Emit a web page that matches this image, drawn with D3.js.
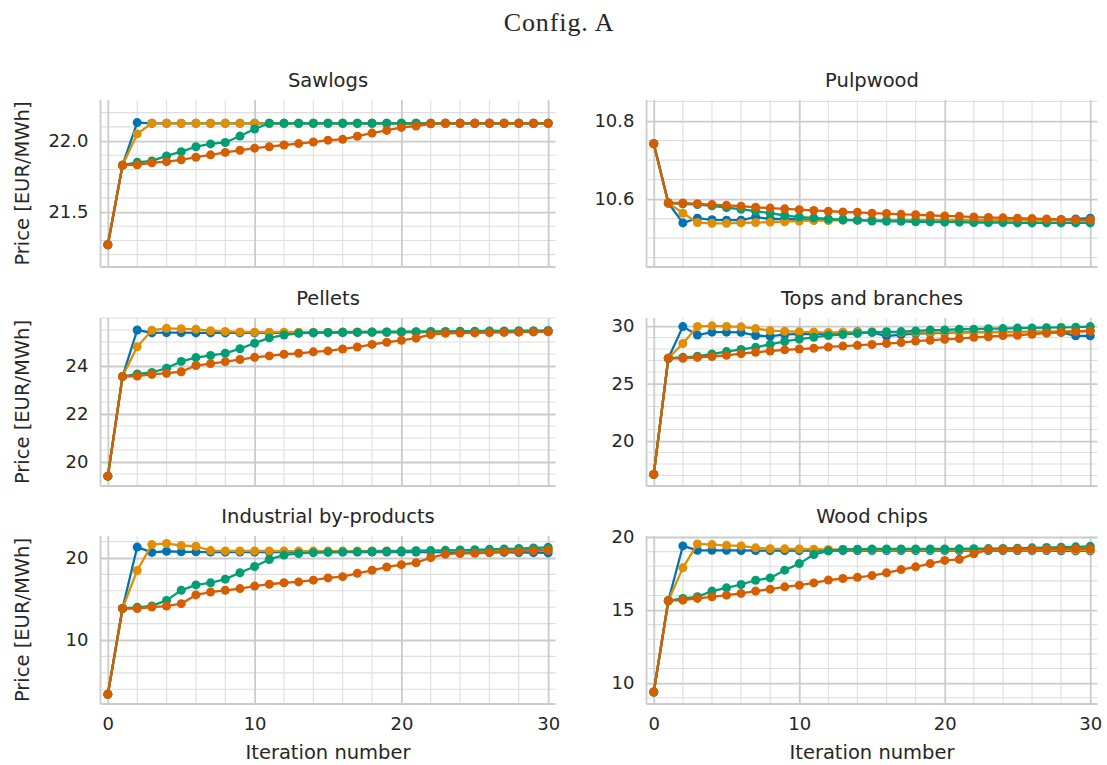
<!DOCTYPE html>
<html>
<head>
<meta charset="utf-8">
<script src="https://cdn.jsdelivr.net/npm/d3@7/dist/d3.min.js"></script>
<style>
  html, body { margin: 0; padding: 0; background: #ffffff; }
  svg { display: block; }
  text { font-family: "DejaVu Sans", sans-serif; fill: #262626; }
</style>
</head>
<body>
<svg id="chart" width="1107" height="765"></svg>
<script>
// ---- Data: price per iteration (0..30), four runs per assortment ----
const iterations = d3.range(0, 31);
const runNames = ["Run 1", "Run 2", "Run 3", "Run 4"];
const runColors = ["#0173b2", "#de8f05", "#029e73", "#d55e00"];

const sawlogsRun1 = [21.27, 21.83, 22.13, 22.125, 22.125, 22.125, 22.125, 22.125, 22.125, 22.125, 22.125, 22.125, 22.125, 22.125, 22.125, 22.125, 22.125, 22.125, 22.125, 22.125, 22.125, 22.125, 22.125, 22.125, 22.125, 22.125, 22.125, 22.125, 22.125, 22.125, 22.125];
const sawlogsRun2 = [21.27, 21.83, 22.05, 22.125, 22.125, 22.125, 22.125, 22.125, 22.125, 22.125, 22.125, 22.125, 22.125, 22.125, 22.125, 22.125, 22.125, 22.125, 22.125, 22.125, 22.125, 22.125, 22.125, 22.125, 22.125, 22.125, 22.125, 22.125, 22.125, 22.125, 22.125];
const sawlogsRun3 = [21.27, 21.83, 21.85, 21.86, 21.895, 21.925, 21.96, 21.98, 21.99, 22.035, 22.085, 22.125, 22.125, 22.125, 22.125, 22.125, 22.125, 22.125, 22.125, 22.125, 22.125, 22.125, 22.125, 22.125, 22.125, 22.125, 22.125, 22.125, 22.125, 22.125, 22.125];
const sawlogsRun4 = [21.27, 21.83, 21.833, 21.847, 21.855, 21.868, 21.886, 21.903, 21.92, 21.935, 21.95, 21.96, 21.972, 21.982, 21.993, 22.006, 22.012, 22.034, 22.056, 22.075, 22.096, 22.106, 22.121, 22.125, 22.125, 22.125, 22.125, 22.125, 22.125, 22.125, 22.125];

const pulpwoodRun1 = [10.742, 10.59, 10.539, 10.551, 10.547, 10.546, 10.546, 10.554, 10.549, 10.549, 10.548, 10.547, 10.547, 10.547, 10.546, 10.546, 10.546, 10.546, 10.546, 10.546, 10.546, 10.546, 10.546, 10.546, 10.546, 10.546, 10.546, 10.546, 10.547, 10.549, 10.551];
const pulpwoodRun2 = [10.742, 10.59, 10.564, 10.54, 10.538, 10.538, 10.539, 10.54, 10.541, 10.542, 10.544, 10.545, 10.545, 10.546, 10.546, 10.546, 10.546, 10.546, 10.546, 10.546, 10.546, 10.546, 10.546, 10.546, 10.546, 10.546, 10.546, 10.546, 10.546, 10.545, 10.545];
const pulpwoodRun3 = [10.742, 10.59, 10.588, 10.586, 10.583, 10.578, 10.574, 10.569, 10.564, 10.558, 10.554, 10.552, 10.549, 10.547, 10.546, 10.544, 10.543, 10.543, 10.542, 10.542, 10.541, 10.541, 10.54, 10.54, 10.54, 10.539, 10.539, 10.539, 10.539, 10.539, 10.539];
const pulpwoodRun4 = [10.742, 10.59, 10.59, 10.588, 10.586, 10.584, 10.582, 10.579, 10.577, 10.575, 10.573, 10.571, 10.569, 10.567, 10.566, 10.564, 10.563, 10.561, 10.56, 10.558, 10.557, 10.556, 10.554, 10.553, 10.552, 10.551, 10.55, 10.549, 10.548, 10.547, 10.547];

const pelletsRun1 = [19.41, 23.56, 25.5, 25.38, 25.39, 25.39, 25.38, 25.38, 25.38, 25.38, 25.38, 25.38, 25.38, 25.38, 25.38, 25.39, 25.39, 25.4, 25.4, 25.4, 25.4, 25.41, 25.41, 25.41, 25.42, 25.42, 25.42, 25.43, 25.43, 25.44, 25.45];
const pelletsRun2 = [19.41, 23.56, 24.8, 25.49, 25.57, 25.55, 25.53, 25.47, 25.44, 25.42, 25.41, 25.41, 25.41, 25.41, 25.41, 25.41, 25.42, 25.42, 25.42, 25.42, 25.42, 25.42, 25.42, 25.42, 25.42, 25.42, 25.43, 25.43, 25.43, 25.43, 25.43];
const pelletsRun3 = [19.41, 23.56, 23.67, 23.73, 23.91, 24.19, 24.35, 24.44, 24.53, 24.72, 24.95, 25.17, 25.29, 25.36, 25.39, 25.4, 25.41, 25.41, 25.42, 25.42, 25.43, 25.43, 25.44, 25.44, 25.45, 25.45, 25.46, 25.46, 25.47, 25.47, 25.48];
const pelletsRun4 = [19.41, 23.56, 23.58, 23.65, 23.7, 23.76, 24.02, 24.1, 24.18, 24.27, 24.36, 24.42, 24.49, 24.53, 24.59, 24.63, 24.71, 24.79, 24.9, 24.99, 25.07, 25.16, 25.31, 25.36, 25.37, 25.38, 25.39, 25.4, 25.41, 25.42, 25.43];

const topsRun1 = [17.1, 27.2, 29.95, 29.22, 29.47, 29.47, 29.45, 29.18, 29.1, 29.27, 29.3, 29.3, 29.35, 29.45, 29.5, 29.45, 29.12, 29.25, 29.35, 29.38, 29.4, 29.45, 29.48, 29.5, 29.5, 29.5, 29.5, 29.5, 29.45, 29.15, 29.15];
const topsRun2 = [17.1, 27.2, 28.48, 29.96, 30.02, 29.97, 29.93, 29.78, 29.6, 29.55, 29.5, 29.48, 29.43, 29.45, 29.47, 29.48, 29.45, 29.45, 29.45, 29.45, 29.45, 29.43, 29.45, 29.46, 29.47, 29.48, 29.5, 29.52, 29.55, 29.57, 29.58];
const topsRun3 = [17.1, 27.2, 27.28, 27.37, 27.57, 27.78, 27.97, 28.15, 28.41, 28.66, 28.86, 29.02, 29.18, 29.27, 29.36, 29.46, 29.5, 29.52, 29.58, 29.65, 29.66, 29.72, 29.73, 29.77, 29.78, 29.82, 29.84, 29.86, 29.88, 29.9, 29.95];
const topsRun4 = [17.1, 27.2, 27.2, 27.27, 27.35, 27.45, 27.6, 27.72, 27.83, 27.93, 28.0, 28.07, 28.18, 28.26, 28.32, 28.4, 28.48, 28.56, 28.69, 28.77, 28.85, 28.91, 29.02, 29.07, 29.17, 29.2, 29.29, 29.38, 29.46, 29.5, 29.58];

const byproductsRun1 = [3.38, 13.84, 21.33, 20.68, 20.82, 20.75, 20.75, 20.72, 20.72, 20.72, 20.72, 20.72, 20.72, 20.72, 20.72, 20.72, 20.72, 20.72, 20.72, 20.72, 20.72, 20.72, 20.72, 20.72, 20.7, 20.7, 20.68, 20.68, 20.66, 20.65, 20.62];
const byproductsRun2 = [3.38, 13.84, 18.48, 21.63, 21.78, 21.52, 21.43, 20.9, 20.86, 20.86, 20.86, 20.86, 20.84, 20.84, 20.84, 20.84, 20.84, 20.84, 20.85, 20.85, 20.85, 20.86, 20.86, 20.87, 20.88, 20.9, 20.92, 20.93, 20.95, 20.96, 20.97];
const byproductsRun3 = [3.38, 13.84, 13.98, 14.16, 14.83, 16.06, 16.72, 16.97, 17.42, 18.2, 18.96, 19.82, 20.35, 20.55, 20.65, 20.7, 20.74, 20.77, 20.8, 20.82, 20.84, 20.88, 20.9, 20.93, 20.97, 21.0, 21.05, 21.1, 21.15, 21.22, 21.3];
const byproductsRun4 = [3.38, 13.84, 13.84, 14.02, 14.14, 14.43, 15.5, 15.85, 16.06, 16.27, 16.57, 16.8, 16.98, 17.08, 17.3, 17.57, 17.72, 18.13, 18.5, 18.9, 19.19, 19.42, 20.04, 20.47, 20.55, 20.57, 20.67, 20.75, 20.82, 20.88, 20.95];

const chipsRun1 = [9.39, 15.64, 19.39, 19.09, 19.09, 19.09, 19.08, 19.07, 19.07, 19.07, 19.07, 19.07, 19.07, 19.07, 19.07, 19.07, 19.07, 19.07, 19.07, 19.07, 19.07, 19.07, 19.07, 19.07, 19.07, 19.07, 19.07, 19.07, 19.06, 19.05, 19.05];
const chipsRun2 = [9.39, 15.64, 17.89, 19.53, 19.48, 19.43, 19.39, 19.26, 19.2, 19.19, 19.18, 19.17, 19.15, 19.14, 19.14, 19.13, 19.13, 19.13, 19.13, 19.13, 19.13, 19.13, 19.13, 19.13, 19.13, 19.13, 19.13, 19.13, 19.12, 19.1, 19.1];
const chipsRun3 = [9.39, 15.64, 15.8, 15.91, 16.3, 16.52, 16.75, 17.04, 17.2, 17.73, 18.18, 18.8, 19.05, 19.15, 19.17, 19.18, 19.18, 19.18, 19.18, 19.18, 19.18, 19.19, 19.2, 19.21, 19.22, 19.24, 19.26, 19.28, 19.3, 19.33, 19.36];
const chipsRun4 = [9.39, 15.64, 15.68, 15.8, 15.91, 16.02, 16.14, 16.3, 16.43, 16.59, 16.7, 16.86, 17.05, 17.16, 17.24, 17.36, 17.55, 17.77, 17.96, 18.18, 18.4, 18.47, 18.85, 19.14, 19.15, 19.16, 19.17, 19.18, 19.19, 19.2, 19.2];

const panelTitles = ["Sawlogs", "Pulpwood", "Pellets", "Tops and branches", "Industrial by-products", "Wood chips"];
const panelSeries = [
  [sawlogsRun1, sawlogsRun2, sawlogsRun3, sawlogsRun4],
  [pulpwoodRun1, pulpwoodRun2, pulpwoodRun3, pulpwoodRun4],
  [pelletsRun1, pelletsRun2, pelletsRun3, pelletsRun4],
  [topsRun1, topsRun2, topsRun3, topsRun4],
  [byproductsRun1, byproductsRun2, byproductsRun3, byproductsRun4],
  [chipsRun1, chipsRun2, chipsRun3, chipsRun4]
];
const yDomains = [[21.113, 22.289], [10.426, 10.854], [19.0, 26.0], [16.09, 30.7], [2.2, 22.68], [8.57, 20.07]];
const yMajorTicks = [[21.5, 22.0], [10.6, 10.8], [20, 22, 24], [20, 25, 30], [10, 20], [10, 15, 20]];
const yMinorSteps = [0.1, 0.05, 0.5, 1, 2, 1];
const yTickFormats = [".1f", ".1f", "d", "d", "d", "d"];
const xMajorTicks = [0, 10, 20, 30];
const xMinorStep = 2;
const xDomain = [-0.5, 30.5];

// ---- Layout ----
const colExtents = [[100.5, 555.5], [646.5, 1097.5]];
const rowExtents = [[100, 267], [318, 486], [536, 704]];
const gridMajor = "#cbcbcb", gridMinor = "#dedede";

const svg = d3.select("#chart");

svg.append("text")
  .attr("x", 559).attr("y", 31)
  .attr("text-anchor", "middle")
  .style("font-family", "'Liberation Serif', 'DejaVu Serif', serif")
  .style("font-size", "26px")
  .style("letter-spacing", "0.9px")
  .text("Config. A");

function stepRange(lo, hi, step) {
  const start = Math.ceil(lo / step - 1e-9);
  const end = Math.floor(hi / step + 1e-9);
  return d3.range(start, end + 1).map(k => +(k * step).toFixed(6));
}

panelSeries.forEach((seriesList, i) => {
  const row = Math.floor(i / 2), col = i % 2;
  const [x0, x1] = colExtents[col];
  const [y0, y1] = rowExtents[row];
  const x = d3.scaleLinear().domain(xDomain).range([x0, x1]);
  const y = d3.scaleLinear().domain(yDomains[i]).range([y1, y0]);
  const g = svg.append("g");

  // minor grid
  const yMajors = yMajorTicks[i];
  const yMinors = stepRange(yDomains[i][0], yDomains[i][1], yMinorSteps[i])
    .filter(v => !yMajors.some(m => Math.abs(m - v) < 1e-6));
  const xMinors = stepRange(xDomain[0], xDomain[1], xMinorStep)
    .filter(v => !xMajorTicks.includes(v));

  g.append("g").selectAll("line").data(yMinors).join("line")
    .attr("x1", x0).attr("x2", x1)
    .attr("y1", d => y(d)).attr("y2", d => y(d))
    .attr("stroke", gridMinor).attr("stroke-width", 1.1);
  g.append("g").selectAll("line").data(xMinors).join("line")
    .attr("y1", y0).attr("y2", y1)
    .attr("x1", d => x(d)).attr("x2", d => x(d))
    .attr("stroke", gridMinor).attr("stroke-width", 1.1);

  // major grid via axes
  const yAxis = d3.axisLeft(y).tickValues(yMajors)
    .tickFormat(d3.format(yTickFormats[i]))
    .tickSize(-(x1 - x0)).tickPadding(12);
  const yg = g.append("g").attr("transform", `translate(${x0},0)`).call(yAxis);
  yg.select(".domain").remove();
  yg.selectAll(".tick line").attr("stroke", gridMajor).attr("stroke-width", 1.8);
  yg.selectAll(".tick text").style("font-size", "18px").attr("fill", "#262626");

  const xAxis = d3.axisBottom(x).tickValues(xMajorTicks)
    .tickSize(-(y1 - y0)).tickPadding(13);
  const xg = g.append("g").attr("transform", `translate(0,${y1})`).call(xAxis);
  xg.select(".domain").remove();
  xg.selectAll(".tick line").attr("stroke", gridMajor).attr("stroke-width", 1.8);
  xg.selectAll(".tick text").style("font-size", "18px").attr("fill", "#262626")
    .style("display", row === 2 ? null : "none");

  // spines (left and bottom)
  g.append("line").attr("x1", x0).attr("x2", x0).attr("y1", y0).attr("y2", y1)
    .attr("stroke", gridMajor).attr("stroke-width", 1.8);
  g.append("line").attr("x1", x0).attr("x2", x1).attr("y1", y1).attr("y2", y1)
    .attr("stroke", gridMajor).attr("stroke-width", 1.8);

  // series
  const line = d3.line().x((d, k) => x(iterations[k])).y(d => y(d));
  seriesList.forEach((vals, s) => {
    const sg = g.append("g").attr("class", "series").attr("data-name", runNames[s]);
    sg.append("path").attr("d", line(vals))
      .attr("fill", "none").attr("stroke", runColors[s]).attr("stroke-width", 2.3)
      .attr("stroke-linejoin", "round");
    sg.selectAll("circle").data(vals).join("circle")
      .attr("cx", (d, k) => x(iterations[k])).attr("cy", d => y(d))
      .attr("r", 4.5).attr("fill", runColors[s]);
  });

  // panel title
  g.append("text").attr("x", (x0 + x1) / 2).attr("y", y0 - 13)
    .attr("text-anchor", "middle").style("font-size", "19.5px")
    .text(panelTitles[i]);

  // axis labels
  if (col === 0) {
    g.append("text")
      .attr("transform", `translate(29,${(y0 + y1) / 2}) rotate(-90)`)
      .attr("text-anchor", "middle").style("font-size", "19.5px")
      .text("Price [EUR/MWh]");
  }
  if (row === 2) {
    g.append("text").attr("x", (x0 + x1) / 2).attr("y", 759)
      .attr("text-anchor", "middle").style("font-size", "19.5px")
      .text("Iteration number");
  }
});
</script>
</body>
</html>
